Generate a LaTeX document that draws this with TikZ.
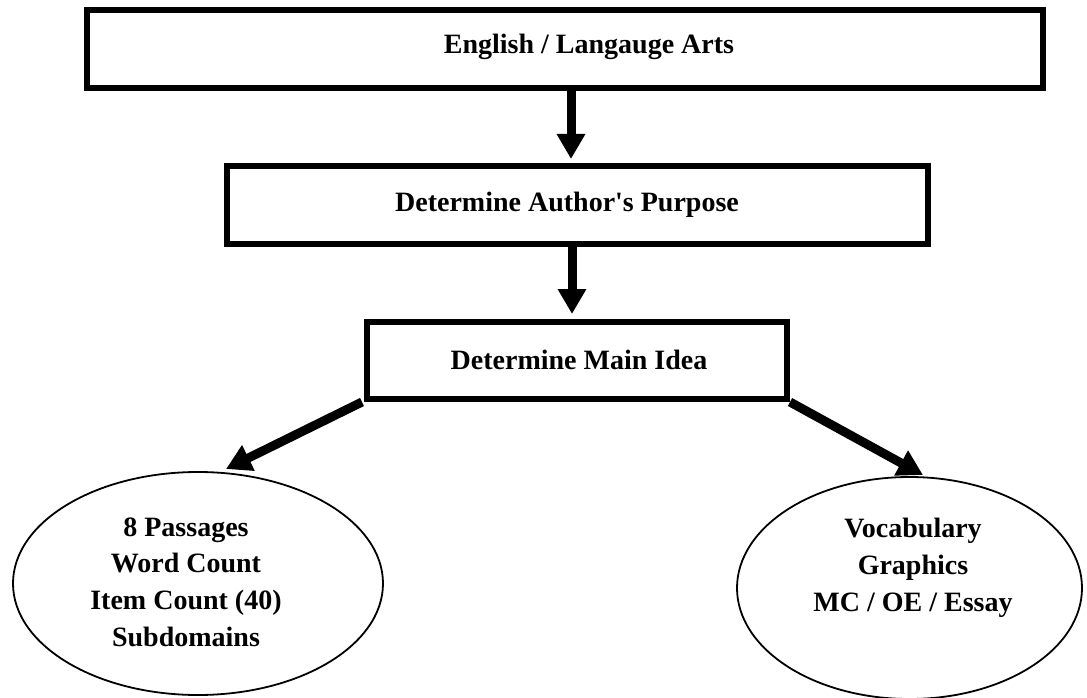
\documentclass[tikz,border=0pt]{standalone}
\usepackage{fontspec}
\setmainfont{Liberation Serif}[Ligatures=TeXOff]
\usetikzlibrary{arrows.meta,shapes.geometric}
\begin{document}
\begin{tikzpicture}[x=1pt,y=-1pt,
  boxframe/.style={draw,line width=6pt,inner sep=0pt},
  ovalframe/.style={draw,ellipse,line width=1.8pt,inner sep=0pt},
  lbl/.style={font=\fontsize{28}{36.7}\selectfont\bfseries,align=center,inner sep=0pt},
  bigarrow/.style={line width=9pt,-{Triangle[length=25pt,width=27pt]}}]
\useasboundingbox (0,0) rectangle (1087,698);
% boxes
\node[boxframe,minimum width=956pt,minimum height=78pt] (b1) at (565,49) {};
\node[boxframe,minimum width=701pt,minimum height=78pt] (b2) at (577.5,205) {};
\node[boxframe,minimum width=420pt,minimum height=77pt] (b3) at (577,360.5) {};
% ellipses
\node[ovalframe,minimum width=370pt,minimum height=223pt] (e1) at (198,583.5) {};
\node[ovalframe,minimum width=345pt,minimum height=222pt] (e2) at (909.5,588) {};
% texts
\node[lbl] (t1) at (589,47) {English / Langauge Arts};
\node[lbl] (t2) at (567,205) {Determine Author's Purpose};
\node[lbl] (t3) at (579,360) {Determine Main Idea};
\node[lbl] (t4) at (186,582) {8 Passages\\Word Count\\Item Count (40)\\Subdomains};
\node[lbl] (t5) at (913,568) {Vocabulary\\Graphics\\MC / OE / Essay};
% arrow coordinates
\coordinate (a1s) at (571,88);
\coordinate (a1e) at (571,159);
\coordinate (a2s) at (572,244);
\coordinate (a2e) at (572,314);
\coordinate (l1e) at (226,469);
\coordinate (r1e) at (923,475);
\draw[bigarrow] (a1s) -- (a1e);
\draw[bigarrow] (a2s) -- (a2e);
\draw[bigarrow] ([xshift=-2pt]b3.south west) -- (l1e);
\draw[bigarrow] (b3.south east) -- (r1e);
\end{tikzpicture}
\end{document}
